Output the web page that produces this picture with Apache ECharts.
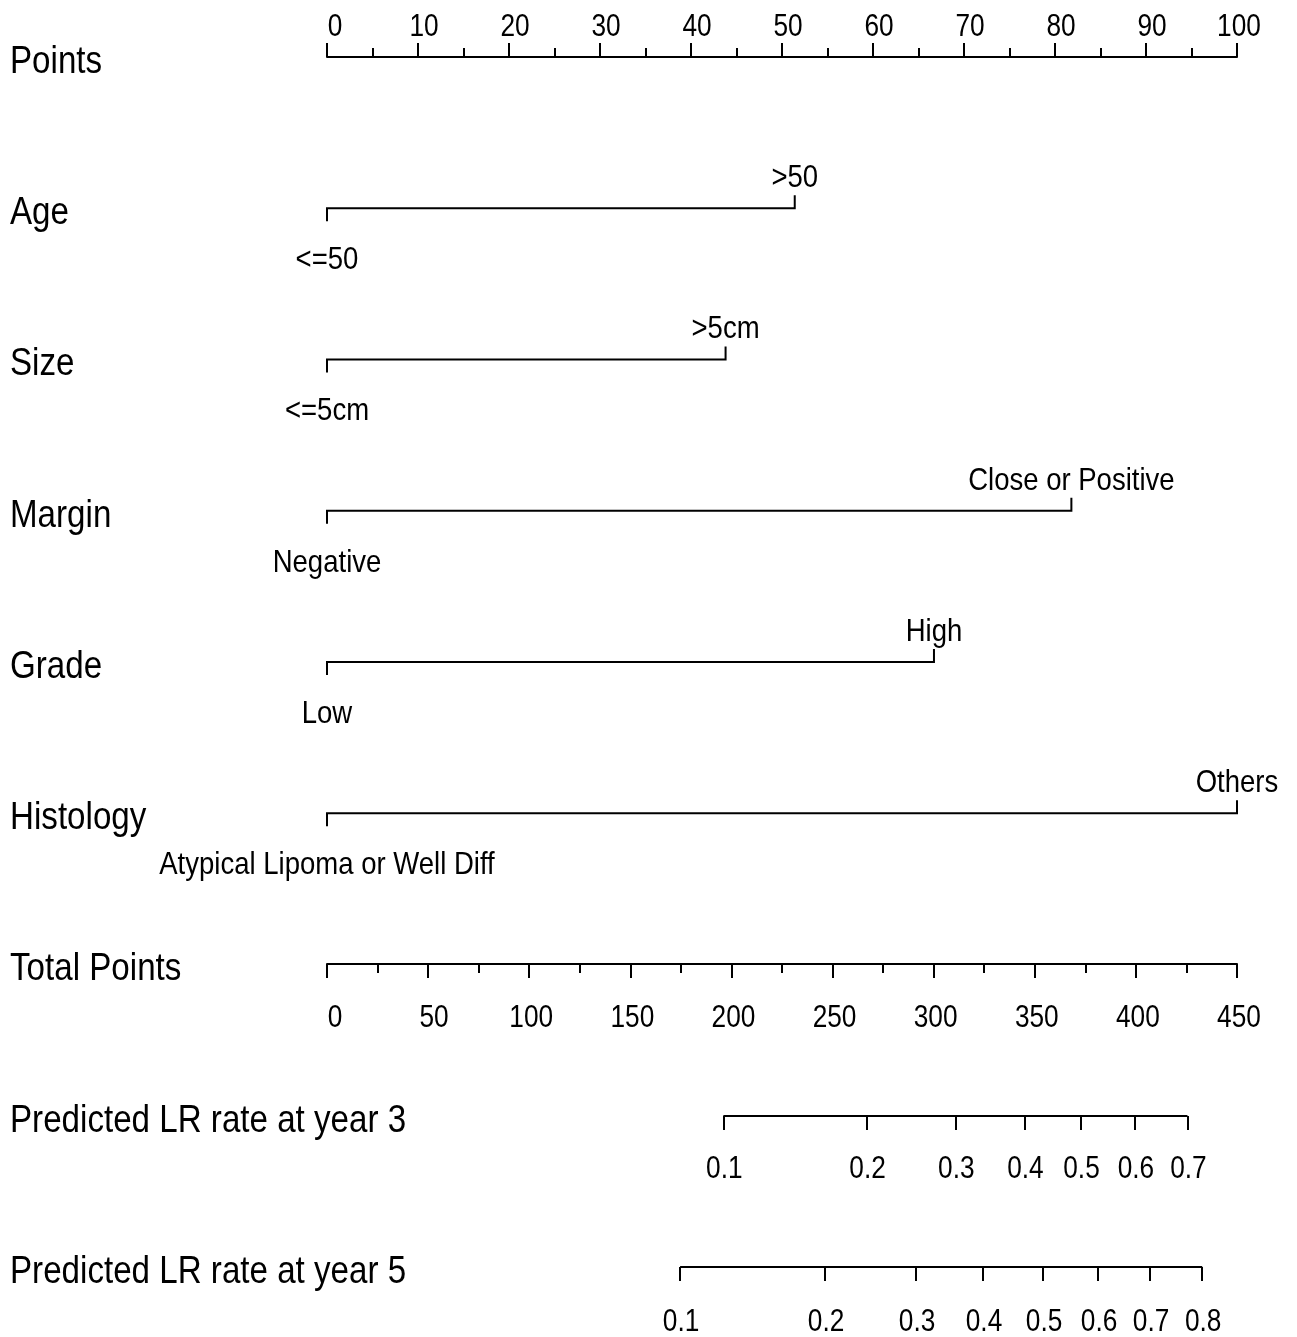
<!DOCTYPE html>
<html>
<head>
<meta charset="utf-8">
<script src="https://cdn.jsdelivr.net/npm/echarts@6/dist/echarts.min.js"></script>
<style>html,body{margin:0;padding:0;background:#fff}#chart{width:1297px;height:1337px}</style>
</head>
<body>
<div id="chart"></div>
<script>
// ---- data ----
const rowNames = ['Points', 'Age', 'Size', 'Margin', 'Grade', 'Histology', 'Total Points', 'Predicted LR rate at year 3', 'Predicted LR rate at year 5'];
const varRows = [1, 2, 3, 4, 5];
const varMaxPoints = [51.4, 43.8, 81.8, 66.7, 100];
const varLowLabels = ['<=50', '<=5cm', 'Negative', 'Low', 'Atypical Lipoma or Well Diff'];
const varHighLabels = ['>50', '>5cm', 'Close or Positive', 'High', 'Others'];
const pointsTicks = [0, 10, 20, 30, 40, 50, 60, 70, 80, 90, 100];
const totalTicks = [0, 50, 100, 150, 200, 250, 300, 350, 400, 450];
const lr3Labels = ['0.1', '0.2', '0.3', '0.4', '0.5', '0.6', '0.7'];
const lr3Points = [196.0, 266.8, 310.7, 344.9, 372.6, 399.5, 425.5];
const lr5Labels = ['0.1', '0.2', '0.3', '0.4', '0.5', '0.6', '0.7', '0.8'];
const lr5Points = [174.6, 246.3, 291.3, 324.4, 354.1, 381.3, 407.0, 432.8];

// ---- styles ----
const FONT = "'Liberation Sans', Arial, sans-serif";
const BLACK = '#000';
const LW = 2;
const NAME_SIZE = 39, NAME_SX = 0.85;
const TICK_SIZE = 32, TICK_SX = 0.82;
const VAR_SIZE = 32, VAR_SX = 0.86;

const chart = echarts.init(document.getElementById('chart'), null, {renderer: 'canvas'});

function txt(str, x, y, size, sx, align) {
  return {
    type: 'text', x: x, y: y, scaleX: sx, scaleY: 1,
    style: {text: str, x: 0, y: 0, align: align || 'center', verticalAlign: 'middle',
      fontFamily: FONT, fontSize: size, fill: BLACK}
  };
}
function shiftFor(s) { return s.length === 1 ? 8 : (s.length === 2 ? 6 : 2); }

function axisGrid(top, height) {
  return {left: 327, right: 60, top: top, height: height, containLabel: false};
}
const hiddenY = (gi) => ({gridIndex: gi, type: 'value', min: 0, max: 1, show: false});

const varData = varRows.map((r, i) => [varMaxPoints[i], r, varLowLabels[i], varHighLabels[i]]);

function lrAxis(gi, pts) {
  return {
    gridIndex: gi, type: 'value', min: 0, max: totalTicks[totalTicks.length - 1], position: 'bottom',
    axisLine: {show: false},
    splitLine: {show: false},
    axisTick: {show: true, customValues: pts, length: 14, lineStyle: {color: BLACK, width: LW}},
    axisLabel: {show: false}
  };
}

const option = {
  backgroundColor: '#fff',
  animation: false,
  grid: [
    axisGrid(57, 1210),   // 0: main rows
    axisGrid(57, 1),      // 1: Points axis (top edge = axis)
    axisGrid(963, 1),     // 2: Total points axis (bottom edge = axis)
    axisGrid(1115, 1),    // 3: LR year 3
    axisGrid(1266, 1)     // 4: LR year 5
  ],
  xAxis: [
    {gridIndex: 0, type: 'value', min: 0, max: pointsTicks[pointsTicks.length - 1], show: false},
    {
      gridIndex: 1, type: 'value', min: 0, max: pointsTicks[pointsTicks.length - 1],
      interval: pointsTicks[1] - pointsTicks[0], position: 'top',
      axisLine: {show: true, lineStyle: {color: BLACK, width: LW}},
      axisTick: {show: true, inside: false, length: 14, lineStyle: {color: BLACK, width: LW}},
      minorTick: {show: true, splitNumber: 2, length: 9, lineStyle: {color: BLACK, width: LW}},
      splitLine: {show: false}, minorSplitLine: {show: false},
      axisLabel: {show: false}
    },
    {
      gridIndex: 2, type: 'value', min: 0, max: totalTicks[totalTicks.length - 1],
      interval: totalTicks[1] - totalTicks[0], position: 'bottom',
      axisLine: {show: true, lineStyle: {color: BLACK, width: LW}},
      axisTick: {show: true, inside: false, length: 14, lineStyle: {color: BLACK, width: LW}},
      minorTick: {show: true, splitNumber: 2, length: 9, lineStyle: {color: BLACK, width: LW}},
      splitLine: {show: false}, minorSplitLine: {show: false},
      axisLabel: {show: false}
    },
    lrAxis(3, lr3Points),
    lrAxis(4, lr5Points)
  ],
  yAxis: [
    {
      gridIndex: 0, type: 'value', min: 0, max: rowNames.length - 1, interval: 1, inverse: true,
      show: false
    },
    {gridIndex: 1, type: 'value', min: 0, max: 1, show: false, inverse: true},
    hiddenY(2), hiddenY(3), hiddenY(4)
  ],
  series: [
    // row names
    {
      type: 'custom', xAxisIndex: 0, yAxisIndex: 0, clip: false, silent: true,
      data: rowNames.map((n, i) => [0, i]),
      renderItem: function (params, api) {
        const p = api.coord([0, api.value(1)]);
        const x = params.coordSys.x - 317;
        return txt(rowNames[api.value(1)], x, p[1] + 5, NAME_SIZE, NAME_SX, 'left');
      }
    },
    // variable rows
    {
      type: 'custom', xAxisIndex: 0, yAxisIndex: 0, clip: false, silent: true,
      data: varData,
      renderItem: function (params, api) {
        const row = api.value(1);
        const p0 = api.coord([0, row]);
        const p1 = api.coord([api.value(0), row]);
        const y = p0[1];
        const item = varData[params.dataIndex];
        return {
          type: 'group',
          children: [
            {
              type: 'polyline',
              shape: {points: [[p0[0], y + 13], [p0[0], y], [p1[0], y], [p1[0], y - 13]]},
              style: {stroke: BLACK, lineWidth: LW, fill: null}
            },
            txt(item[2], p0[0], y + 52, VAR_SIZE, VAR_SX, 'center'),
            txt(item[3], p1[0], y - 30, VAR_SIZE, VAR_SX, 'center')
          ]
        };
      }
    },
    // Points axis labels
    {
      type: 'custom', xAxisIndex: 1, yAxisIndex: 1, clip: false, silent: true,
      data: pointsTicks.map((v, i) => [v, i]),
      renderItem: function (params, api) {
        const p = api.coord([api.value(0), 0]);
        const lab = String(pointsTicks[api.value(1)]);
        return txt(lab, p[0] + shiftFor(lab), p[1] - 29.5, TICK_SIZE, TICK_SX, 'center');
      }
    },
    // Total points labels
    {
      type: 'custom', xAxisIndex: 2, yAxisIndex: 2, clip: false, silent: true,
      data: totalTicks.map((v, i) => [v, i]),
      renderItem: function (params, api) {
        const p = api.coord([api.value(0), 0]);
        const lab = String(totalTicks[api.value(1)]);
        return txt(lab, p[0] + shiftFor(lab), p[1] + 54, TICK_SIZE, TICK_SX, 'center');
      }
    },
    // LR year 3 labels
    {
      type: 'custom', xAxisIndex: 3, yAxisIndex: 3, clip: false, silent: true,
      data: lr3Points.map((v, i) => [v, i]),
      renderItem: function (params, api) {
        const p = api.coord([api.value(0), 0]);
        return txt(lr3Labels[api.value(1)], p[0] + 1, p[1] + 53, TICK_SIZE, TICK_SX, 'center');
      }
    },
    // LR year 5 labels
    {
      type: 'custom', xAxisIndex: 4, yAxisIndex: 4, clip: false, silent: true,
      data: lr5Points.map((v, i) => [v, i]),
      renderItem: function (params, api) {
        const p = api.coord([api.value(0), 0]);
        return txt(lr5Labels[api.value(1)], p[0] + 1, p[1] + 55, TICK_SIZE, TICK_SX, 'center');
      }
    },
    {
      type: 'line', xAxisIndex: 3, yAxisIndex: 3, clip: false, symbol: 'none', silent: true,
      lineStyle: {color: BLACK, width: LW},
      data: [[lr3Points[0], 0], [lr3Points[lr3Points.length - 1], 0]]
    },
    {
      type: 'line', xAxisIndex: 4, yAxisIndex: 4, clip: false, symbol: 'none', silent: true,
      lineStyle: {color: BLACK, width: LW},
      data: [[lr5Points[0], 0], [lr5Points[lr5Points.length - 1], 0]]
    }
  ]
};
chart.setOption(option);
</script>
</body>
</html>
